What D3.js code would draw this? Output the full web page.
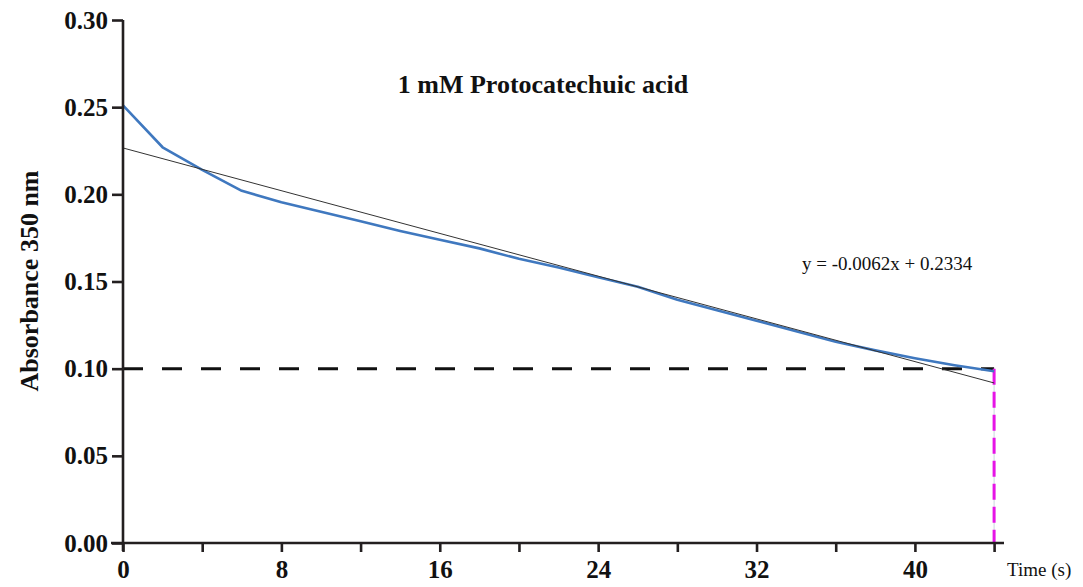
<!DOCTYPE html>
<html>
<head>
<meta charset="utf-8">
<script src="https://cdn.jsdelivr.net/npm/d3@7"></script>
<style>
  html, body { margin: 0; padding: 0; background: #fff; }
  svg { display: block; }
  text { font-family: "Liberation Serif", "Times New Roman", serif; fill: #111; }
</style>
</head>
<body>
<svg id="chart" width="1083" height="587"></svg>
<script>
// ---- data ----
const times = [0, 2, 4, 6, 8, 10, 12, 14, 16, 18, 20, 22, 24, 26, 28, 30, 32, 34, 36, 38, 40, 42, 44];
const absorbance = [0.251, 0.227, 0.214, 0.202, 0.1955, 0.190, 0.1845, 0.179, 0.174, 0.169, 0.163, 0.158,
                    0.1525, 0.147, 0.1395, 0.1335, 0.1275, 0.1215, 0.1155, 0.1105, 0.106, 0.102, 0.0985];
const fitTimes = [0, 44];
const fitValues = [0.2266, 0.0918];
const thresholdValue = 0.10;
const endTime = 44;
const xTickValues = [0, 4, 8, 12, 16, 20, 24, 28, 32, 36, 40, 44];
const xTickLabels = [0, 8, 16, 24, 32, 40];
const yTickValues = [0, 0.05, 0.10, 0.15, 0.20, 0.25, 0.30];
const titleText = "1 mM Protocatechuic acid";
const equationText = "y = -0.0062x + 0.2334";
const yLabel = "Absorbance 350 nm";
const xLabel = "Time (s)";

// ---- layout ----
const svg = d3.select("#chart");
const x = d3.scaleLinear().domain([0, 44.5]).range([123, 1004]);
const y = d3.scaleLinear().domain([0, 0.30]).range([543, 20]);
const axisColor = "#231f20";

// threshold dashed line
svg.append("line")
  .attr("x1", x(0)).attr("x2", x(endTime))
  .attr("y1", y(thresholdValue)).attr("y2", y(thresholdValue))
  .attr("stroke", "#111").attr("stroke-width", 3)
  .attr("stroke-dasharray", "20,19");

// thin guide under magenta
svg.append("line")
  .attr("x1", x(endTime)).attr("x2", x(endTime))
  .attr("y1", y(thresholdValue)).attr("y2", y(0))
  .attr("stroke", "#c8d8dc").attr("stroke-width", 1);

// magenta dashed vertical
svg.append("line")
  .attr("x1", x(endTime)).attr("x2", x(endTime))
  .attr("y1", y(thresholdValue)).attr("y2", y(0))
  .attr("stroke", "#e614e6").attr("stroke-width", 3)
  .attr("stroke-dasharray", "16,7");

// data line
const pts = times.map((t, i) => [t, absorbance[i]]);
svg.append("path")
  .datum(pts)
  .attr("fill", "none")
  .attr("stroke", "#3f78bf")
  .attr("stroke-width", 2.6)
  .attr("stroke-linejoin", "round")
  .attr("d", d3.line().x(d => x(d[0])).y(d => y(d[1])));

// fit line
const fitPts = fitTimes.map((t, i) => [t, fitValues[i]]);
svg.append("path")
  .datum(fitPts)
  .attr("fill", "none")
  .attr("stroke", "#333")
  .attr("stroke-width", 1)
  .attr("d", d3.line().x(d => x(d[0])).y(d => y(d[1])));

// x axis
const xAxis = d3.axisBottom(x)
  .tickValues(xTickValues)
  .tickSize(9)
  .tickPadding(8)
  .tickFormat(d => xTickLabels.includes(d) ? d : "");
const gx = svg.append("g").attr("transform", `translate(0,${y(0)})`).call(xAxis);
gx.select(".domain").attr("d", `M${x(0) - 12},0H${x(44.5)}`).attr("stroke", axisColor).attr("stroke-width", 2.6);
gx.selectAll(".tick line").attr("stroke", axisColor).attr("stroke-width", 2.6);
gx.selectAll(".tick text")
  .style("font-family", "Liberation Serif, serif")
  .style("font-weight", "bold")
  .style("font-size", "25px")
  .attr("fill", "#111");

// y axis
const yAxis = d3.axisLeft(y)
  .tickValues(yTickValues)
  .tickSize(11)
  .tickPadding(4)
  .tickFormat(d3.format(".2f"));
const gy = svg.append("g").attr("transform", `translate(${x(0)},0)`).call(yAxis);
gy.select(".domain").attr("d", `M0,${y(0.30)}V${y(0) + 8}`).attr("stroke", axisColor).attr("stroke-width", 2.6);
gy.selectAll(".tick line").attr("stroke", axisColor).attr("stroke-width", 2.6);
gy.selectAll(".tick text")
  .style("font-family", "Liberation Serif, serif")
  .style("font-weight", "bold")
  .style("font-size", "25px")
  .attr("fill", "#111");

// title
svg.append("text")
  .attr("x", 543).attr("y", 93)
  .attr("text-anchor", "middle")
  .style("font-weight", "bold").style("font-size", "26px")
  .text(titleText);

// equation
svg.append("text")
  .attr("x", 802).attr("y", 270)
  .style("font-size", "19px")
  .text(equationText);

// y label
svg.append("text")
  .attr("transform", "translate(38,281) rotate(-90)")
  .attr("text-anchor", "middle")
  .style("font-weight", "bold").style("font-size", "26px")
  .text(yLabel);

// x label
svg.append("text")
  .attr("x", 1007).attr("y", 576)
  .style("font-size", "19px")
  .text(xLabel);
</script>
</body>
</html>
